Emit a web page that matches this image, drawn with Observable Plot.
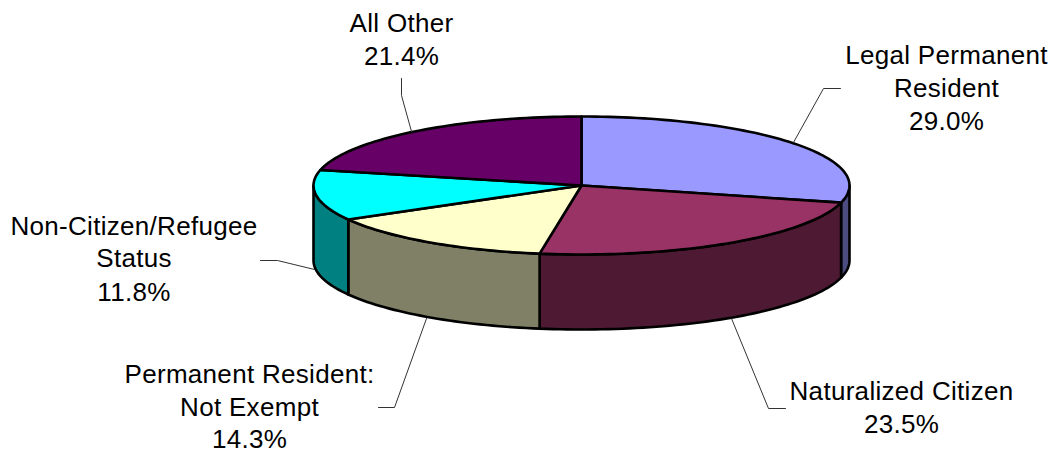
<!DOCTYPE html>
<html>
<head>
<meta charset="utf-8">
<style>html,body{margin:0;padding:0;background:#fff}svg{display:block}</style>
<script src="https://cdn.jsdelivr.net/npm/d3@7"></script>
<script src="https://cdn.jsdelivr.net/npm/@observablehq/plot@0.6"></script>
</head>
<body>
<script>
// Data
const categories = ["Legal Permanent Resident", "Naturalized Citizen", "Permanent Resident: Not Exempt", "Non-Citizen/Refugee Status", "All Other"];
const shares = [29.0, 23.5, 14.3, 11.8, 21.4];
const labelLines = [
  ["Legal Permanent", "Resident", "29.0%"],
  ["Naturalized Citizen", "23.5%"],
  ["Permanent Resident:", "Not Exempt", "14.3%"],
  ["Non-Citizen/Refugee", "Status", "11.8%"],
  ["All Other", "21.4%"]
];
// Styles
const topColors = ["#9999ff", "#993366", "#ffffcc", "#00ffff", "#660066"];
const sideColors = ["#4c4c80", "#4d1933", "#808066", "#008080", "#330033"];
// Layout (pixel space of the chart)
const cx = 581, cy = 185, rx = 268, ry = 69, depth = 75;
const labelPos = [
  {x: 946, ys: [55, 88, 121]},
  {x: 901, ys: [391, 424]},
  {x: 249, ys: [374, 407, 439.5]},
  {x: 133.5, ys: [226, 258, 292]},
  {x: 401, ys: [23, 56]}
];
const leaders = [
  [[793, 142], [823, 88], [840, 88]],
  [[731, 318], [768, 408], [785, 408]],
  [[426, 318], [394, 407], [378, 407]],
  [[314, 269], [277, 260], [260, 260]],
  [[411, 131], [401, 95], [401, 78]]
];

const rad = d => d * Math.PI / 180;
const rim = (deg, dy = 0) => ({x: cx + rx * Math.sin(rad(deg)), y: cy - ry * Math.cos(rad(deg)) + dy});
const arc = (a, b, dy = 0) => {
  const n = Math.max(2, Math.ceil(Math.abs(b - a) / 1.5));
  return d3.range(n + 1).map(i => rim(a + (b - a) * i / n, dy));
};

let acc = 0;
const slices = shares.map((s, i) => {
  const a = acc / 100 * 360; acc += s;
  return {i, a, b: acc / 100 * 360};
});

const outline = {stroke: "#000", strokeWidth: 2.6, strokeLinejoin: "round", curve: "linear", x: "x", y: "y"};

const sideMarks = slices.flatMap(({i, a, b}) => {
  const lo = Math.max(a, 90), hi = Math.min(b, 270);
  if (lo >= hi) return [];
  const pts = [...arc(lo, hi), ...arc(hi, lo, depth)];
  pts.push(pts[0]);
  return [Plot.line(pts, {...outline, fill: sideColors[i]})];
});
const topMarks = slices.map(({i, a, b}) => {
  const pts = [{x: cx, y: cy}, ...arc(a, b), {x: cx, y: cy}];
  return Plot.line(pts, {...outline, fill: topColors[i]});
});
const leaderMarks = leaders.map(l =>
  Plot.line(l, {x: d => d[0], y: d => d[1], stroke: "#333", strokeWidth: 1, curve: "linear"}));
const textRows = labelLines.flatMap((lines, i) =>
  lines.map((t, j) => ({t, x: labelPos[i].x, y: labelPos[i].ys[j]})));

const chart = Plot.plot({
  width: 1052, height: 454,
  margin: 0,
  x: {domain: [0, 1052], range: [0, 1052], axis: null},
  y: {domain: [0, 454], range: [0, 454], axis: null},
  style: {background: "#fff", letterSpacing: "0.3px"},
  marks: [
    ...sideMarks,
    ...topMarks,
    ...leaderMarks,
    Plot.text(textRows, {x: "x", y: "y", text: "t", fontSize: 26, fill: "#000", textAnchor: "middle", fontFamily: "'Liberation Sans', Arial, sans-serif"})
  ]
});
document.body.appendChild(chart);
</script>
</body>
</html>
